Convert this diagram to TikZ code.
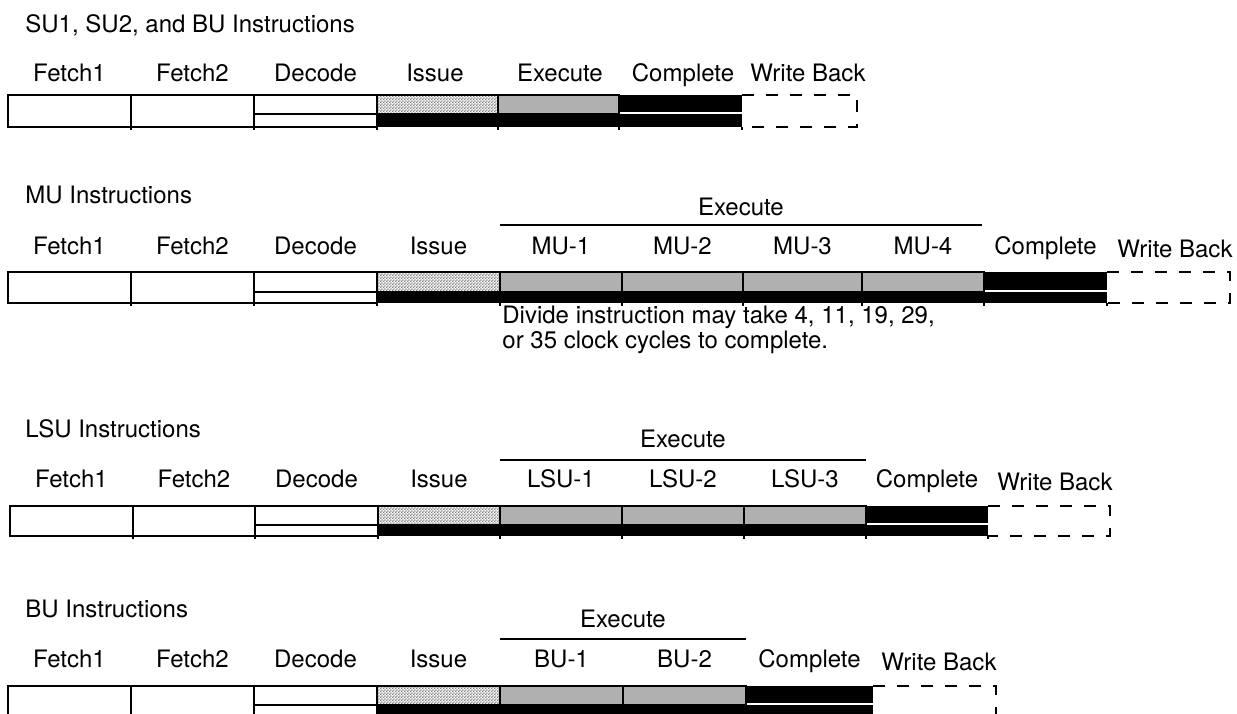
\documentclass[tikz,border=0pt]{standalone}
\usepackage{fontspec}
\setmainfont{TeX Gyre Heros}
\usetikzlibrary{patterns}
\pgfdeclarepatternformonly{checks}{\pgfpointorigin}{\pgfpoint{1.6pt}{1.6pt}}{\pgfpoint{1.6pt}{1.6pt}}{%
  \pgfpathrectangle{\pgfpointorigin}{\pgfpoint{0.8pt}{0.8pt}}%
  \pgfpathrectangle{\pgfpoint{0.8pt}{0.8pt}}{\pgfpoint{0.8pt}{0.8pt}}%
  \pgfusepath{fill}}

\begin{document}
\begin{tikzpicture}[
  x=0.5pt, y=-0.5pt,
  lbl/.style={font=\fontsize{12}{9.5}\selectfont, inner sep=0pt, anchor=base},
  ttl/.style={lbl, anchor=base west},
  cell/.style={draw, line width=0.7pt},
  issuecell/.style={cell, pattern=checks, pattern color=black!50},
  execcell/.style={cell, fill=black!31},
  wbbox/.style={line width=0.7pt, dash pattern=on 6pt off 6pt},
  tick/.style={line width=0.7pt}
]
\useasboundingbox (0,0) rectangle (1237,713);

% SU1, SU2, BU
\node[ttl] (t1) at (25,32) {SU1, SU2, and BU Instructions};
\foreach \x/\s [count=\i] in {69.5/Fetch1, 192.5/Fetch2, 315.5/Decode, 435/Issue,
    560/Execute, 683/Complete, 808/Write Back}
  \node[lbl] (r1-\i) at (\x,81) {\s};
\draw[cell] (8,95) rectangle (131,127) (131,95) rectangle (254,127)
  (254,95) rectangle (377,127) (254,114) -- (377,114);
\draw[issuecell] (377,95) rectangle (498,114);
\draw[execcell] (498,95) rectangle (619,114);
\fill (619,95) rectangle (742,112);
\fill (377,114) rectangle (742,127);
\draw[wbbox] (742,95) -| (857,127) -- (742,127);
\foreach \x in {131,254,377,498,619,742}
  \draw[tick] (\x,127) -- (\x,130);

% MU
\node[ttl] (t2) at (25,203) {MU Instructions};
\node[lbl] (e2) at (741,215) {Execute};
\draw[line width=0.7pt] (500,225) -- (982,225);
\foreach \x/\s [count=\i] in {69.5/Fetch1, 192.5/Fetch2, 315.5/Decode, 438.5/Issue,
    561/MU-1, 682.5/MU-2, 802.5/MU-3, 923/MU-4, 1045.5/Complete}
  \node[lbl] (r2-\i) at (\x,254) {\s};
\node[lbl] (r2-10) at (1175,257) {Write Back};
\draw[cell] (8,272) rectangle (131,303) (131,272) rectangle (254,303)
  (254,272) rectangle (377,303) (254,292) -- (377,292);
\draw[issuecell] (377,272) rectangle (500,292);
\foreach \a/\b in {500/622, 622/743, 743/862, 862/984}
  \draw[execcell] (\a,272) rectangle (\b,292);
\fill (984,272) rectangle (1107,290);
\fill (377,292) rectangle (1107,303);
\draw[wbbox] (1107,272) -| (1230,303) -- (1107,303);
\foreach \x in {131,254,377,500,622,743,862,984,1107}
  \draw[tick] (\x,303) -- (\x,306);
\node[lbl, anchor=base west, align=left] (note) at (502,348)
  {Divide instruction may take 4, 11, 19, 29,\\or 35 clock cycles to complete.};

% LSU
\node[ttl] (t3) at (25,437) {LSU Instructions};
\node[lbl] (e3) at (683,447) {Execute};
\draw[line width=0.7pt] (500,460) -- (866,460);
\foreach \x/\s [count=\i] in {71.5/Fetch1, 194/Fetch2, 316.5/Decode, 439/Issue,
    561/LSU-1, 683/LSU-2, 805/LSU-3, 927/Complete}
  \node[lbl] (r3-\i) at (\x,487) {\s};
\node[lbl] (r3-9) at (1055,490) {Write Back};
\draw[cell] (10,506) rectangle (133,536) (133,506) rectangle (255,536)
  (255,506) rectangle (378,536) (255,525) -- (378,525);
\draw[issuecell] (378,506) rectangle (500,525);
\foreach \a/\b in {500/622, 622/744, 744/866}
  \draw[execcell] (\a,506) rectangle (\b,525);
\fill (866,506) rectangle (988,523);
\fill (378,525) rectangle (988,536);
\draw[wbbox] (988,506) -| (1110,536) -- (988,536);
\foreach \x in {133,255,378,500,622,744,866,988}
  \draw[tick] (\x,536) -- (\x,539);

% BU
\node[ttl] (t4) at (25,617) {BU Instructions};
\node[lbl] (e4) at (623,627) {Execute};
\draw[line width=0.7pt] (500,639) -- (746,639);
\foreach \x/\s [count=\i] in {69.5/Fetch1, 192.5/Fetch2, 315.5/Decode, 438.5/Issue,
    561.5/BU-1, 684.5/BU-2, 809.5/Complete}
  \node[lbl] (r4-\i) at (\x,667) {\s};
\node[lbl] (r4-8) at (939,670) {Write Back};
\draw[cell] (8,686) rectangle (131,717) (131,686) rectangle (254,717)
  (254,686) rectangle (377,717) (254,705) -- (377,705);
\draw[issuecell] (377,686) rectangle (500,705);
\foreach \a/\b in {500/623, 623/746}
  \draw[execcell] (\a,686) rectangle (\b,705);
\fill (746,686) rectangle (873,703);
\fill (377,705) rectangle (873,717);
\draw[wbbox] (873,686) -| (996,717) -- (873,717);
\end{tikzpicture}
\end{document}
